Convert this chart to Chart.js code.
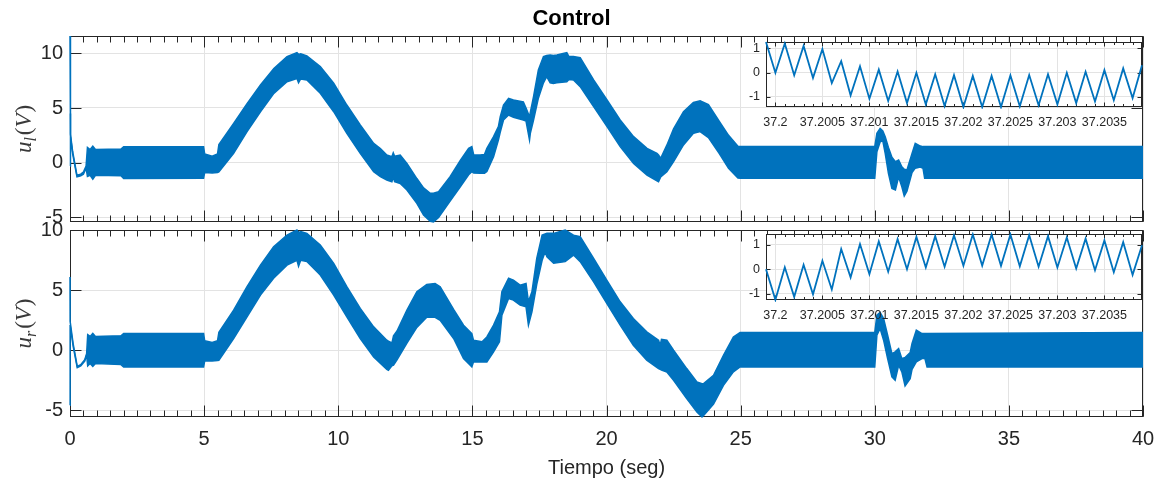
<!DOCTYPE html>
<html>
<head>
<meta charset="utf-8">
<title>Control</title>
<script src="https://cdn.jsdelivr.net/npm/chart.js@4/dist/chart.umd.min.js"></script>
<style>
  html, body { margin: 0; padding: 0; background: #fff; }
  #wrap { position: relative; width: 1165px; height: 483px; overflow: hidden; }
  #wrap canvas { position: absolute; left: 0; top: 0; }
</style>
</head>
<body>
<div id="wrap">
  <canvas id="mainL" width="1165" height="483"></canvas>
  <canvas id="mainR" width="1165" height="483"></canvas>
  <canvas id="zoomL" width="1165" height="483"></canvas>
  <canvas id="zoomR" width="1165" height="483"></canvas>
</div>
<script>
// ---------------------------------------------------------------
// Control signals u_l and u_r (V) over the 40 s run.
// The PWM-like switching makes each trace a dense band, so it is
// stored as the band's upper and lower envelope at sample times.
// ---------------------------------------------------------------

// u_l : sample times (s), band upper / lower envelope (V)
const TL = [
  0, 0.005, 0.03, 0.1, 0.26, 0.4, 0.5, 0.6, 0.65, 0.75,
  0.85, 0.95, 1.9, 2.0, 4.98, 5.02, 5.3, 5.5, 5.55, 6.1,
  6.6, 7.1, 7.6, 8.09, 8.46, 8.52, 8.6, 8.83, 9.33, 9.83,
  10.32, 10.82, 11.32, 11.57, 11.81, 12.0, 12.05, 12.1, 12.31, 12.56,
  12.93, 13.18, 13.43, 13.55, 13.74, 14.17, 14.55, 14.86, 14.98, 15.05,
  15.29, 15.45, 15.54, 15.79, 15.97, 16.04, 16.16, 16.35, 16.53, 16.9,
  17.0, 17.13, 17.16, 17.28, 17.46, 17.65, 17.77, 17.9, 18.02, 18.15,
  18.52, 18.6, 18.77, 19.02, 19.52, 20.02, 20.51, 21.01, 21.51, 21.88,
  21.94, 22.02, 22.25, 22.5, 22.87, 23.24, 23.49, 23.8, 24.2, 24.55,
  24.9, 25.0, 30.0, 30.08, 30.2, 30.3, 30.39, 30.51, 30.64, 30.77,
  30.89, 31.01, 31.1, 31.2, 31.39, 31.51, 31.7, 31.8, 31.86, 40
];
const UL_HI = [
  11.58, 4.8, 2.6, 1.0, -1.15, -1.05, -0.85, -0.3, 1.4, 1.2,
  1.5, 1.2, 1.25, 1.45, 1.45, 0.8, 0.6, 0.8, 1.65, 3.6,
  5.4, 7.1, 8.6, 9.7, 10.06, 9.9, 9.95, 9.75, 8.78, 7.26,
  5.27, 3.45, 1.77, 1.3, 0.7, 0.55, 0.9, 0.6, 0.7, -0.06,
  -1.45, -2.3, -2.8, -2.8, -2.65, -1.28, 0.2, 1.31, 1.46, 0.7,
  0.7, 0.75, 1.31, 2.38, 3.3, 4.2, 5.27, 5.88, 5.73, 5.55,
  5.0, 4.2, 4.6, 6.04, 8.47, 9.7, 9.8, 9.85, 9.8, 9.85,
  10.06, 9.7, 9.7, 9.6, 7.56, 5.73, 3.9, 2.38, 1.31, 0.86,
  0.7, 0.4, 1.6, 3.1, 4.65, 5.5, 5.65, 5.3, 3.8, 2.5,
  1.5, 1.47, 1.47, 2.7, 3.14, 2.9, 2.38, 1.4, 0.5, 0.1,
  0.25, -0.37, -0.6, -0.67, 0.85, 1.77, 1.52, 1.47, 1.47, 1.47
];
const UL_LO = [
  -0.3, 4.5, 2.4, 0.8, -1.3, -1.2, -1.05, -0.5, -1.25, -1.15,
  -1.5, -1.15, -1.2, -1.45, -1.42, -0.9, -0.95, -0.9, -0.85, 0.85,
  2.84, 4.66, 6.34, 7.4, 7.7, 7.3, 7.65, 7.56, 6.34, 4.66,
  2.68, 0.85, -0.82, -1.28, -1.58, -1.74, -1.3, -1.74, -1.9, -2.5,
  -3.72, -4.78, -5.35, -5.42, -5.0, -3.5, -2.2, -1.1, -0.82, -0.95,
  -0.97, -0.97, -0.8, 0.55, 2.07, 2.8, 3.9, 4.36, 4.15, 3.9,
  3.8, 2.07, 2.68, 3.9, 5.9, 7.3, 7.86, 7.3, 7.25, 7.3,
  7.4, 7.6, 7.56, 6.95, 5.12, 3.3, 1.47, -0.06, -1.13, -1.65,
  -1.74, -1.3, -0.82, 0.1, 1.62, 2.68, 2.84, 2.3, 0.86, -0.51,
  -1.4, -1.43, -1.43, 1.0, 1.9, 2.0, 0.85, -0.97, -2.35, -2.5,
  -1.3, -2.2, -3.04, -2.6, -0.9, -0.5, -0.4, -0.52, -1.43, -1.43
];

// u_r : sample times (s), band upper / lower envelope (V)
const TR = [
  0, 0.005, 0.12, 0.27, 0.4, 0.55, 0.62, 0.66, 0.75, 0.85,
  0.95, 1.9, 2.0, 4.98, 5.02, 5.3, 5.5, 5.55, 6.1, 6.6,
  7.1, 7.59, 8.09, 8.46, 8.52, 8.6, 8.83, 9.33, 9.83, 10.32,
  10.82, 11.32, 11.81, 11.87, 12.0, 12.06, 12.19, 12.56, 12.93, 13.3,
  13.61, 13.8, 14.3, 14.67, 14.98, 15.04, 15.36, 15.54, 15.79, 16.01,
  16.1, 16.35, 16.53, 16.78, 17.0, 17.09, 17.22, 17.4, 17.6, 17.71,
  17.78, 18.03, 18.46, 18.77, 19.02, 19.52, 20.01, 20.51, 21.0, 21.5,
  21.94, 22.0, 22.05, 22.25, 22.5, 22.99, 23.37, 23.56, 23.62, 23.99,
  24.36, 24.73, 24.98, 30.0, 30.08, 30.2, 30.33, 30.48, 30.64, 30.76,
  30.89, 31.01, 31.13, 31.32, 31.39, 31.55, 31.76, 31.87, 31.95, 40
];
const UR_HI = [
  6.1, 2.4, 0.5, -1.35, -1.2, -0.8, -0.3, 1.3, 1.15, 1.4,
  1.15, 1.2, 1.4, 1.4, 0.8, 0.65, 0.8, 1.5, 3.34, 5.3,
  7.1, 8.64, 9.6, 10.03, 9.8, 9.9, 9.75, 8.78, 7.25, 5.3,
  3.48, 1.95, 0.84, 0.75, 0.6, 1.2, 1.6, 3.34, 4.88, 5.49,
  5.57, 5.3, 3.4, 2.09, 1.39, 0.84, 0.7, 1.11, 2.09, 3.2,
  4.88, 6.0, 5.85, 5.43, 5.57, 4.04, 4.88, 7.66, 9.6, 9.7,
  9.75, 9.75, 10.03, 9.6, 9.48, 7.66, 5.85, 4.04, 2.65, 1.53,
  0.84, 0.42, 0.9, 0.84, 0.0, -1.53, -2.65, -2.8, -2.79, -2.09,
  -0.42, 1.11, 1.48, 1.48, 2.93, 3.15, 2.65, 1.25, -0.28, -0.14,
  0.14, -0.7, -0.6, -0.2, 0.56, 1.67, 1.39, 1.39, 1.4, 1.48
];
const UR_LO = [
  -4.6, 2.1, 0.3, -1.45, -1.3, -0.9, -0.4, -1.3, -1.1, -1.35,
  -1.1, -1.2, -1.4, -1.39, -0.9, -0.9, -0.85, -0.84, 0.98, 2.79,
  4.6, 6.0, 7.1, 7.5, 7.0, 7.5, 7.4, 6.27, 4.6, 2.79,
  0.98, -0.56, -1.6, -1.67, -1.3, -1.25, -0.8, 0.6, 1.9, 2.75,
  2.75, 2.5, 0.98, -0.7, -1.39, -0.98, -0.98, -0.98, -0.14, 0.7,
  2.93, 4.32, 4.18, 3.76, 3.62, 2.09, 3.2, 5.5, 7.5, 8.2,
  7.8, 7.25, 7.39, 7.94, 7.39, 5.71, 3.9, 2.09, 0.42, -0.84,
  -1.53, -1.6, -1.65, -1.81, -2.51, -4.04, -5.16, -5.57, -5.45, -4.5,
  -2.93, -1.81, -1.39, -1.39, 1.25, 1.81, 0.84, -0.7, -2.23, -2.51,
  -1.25, -1.81, -2.98, -2.37, -1.6, -0.98, -0.7, -0.7, -1.39, -1.39
];

// Close-up of a few switching periods around t = 37.2 s
const ZOOM_T = [
  37.1999, 37.2000, 37.2001, 37.2002, 37.2003, 37.2004, 37.2005, 37.2006, 37.2007, 37.2008,
  37.2009, 37.2010, 37.2011, 37.2012, 37.2013, 37.2014, 37.2015, 37.2016, 37.2017, 37.2018,
  37.2019, 37.2020, 37.2021, 37.2022, 37.2023, 37.2024, 37.2025, 37.2026, 37.2027, 37.2028,
  37.2029, 37.2030, 37.2031, 37.2032, 37.2033, 37.2034, 37.2035, 37.2036, 37.2037, 37.2038,
  37.2039
];
const ZOOM_UL = [
  1.26, -0.01, 1.20, -0.11, 1.10, -0.22, 0.97, -0.43, 0.47, -0.94,
  0.26, -1.08, 0.12, -1.17, 0.04, -1.26, -0.01, -1.31, -0.07, -1.38,
  -0.11, -1.42, -0.14, -1.42, -0.14, -1.42, -0.12, -1.39, -0.10, -1.35,
  -0.07, -1.31, -0.01, -1.26, 0.03, -1.19, 0.10, -1.14, 0.17, -1.05,
  0.30
];
const ZOOM_UR = [
  0.00, -1.24, 0.08, -1.12, 0.18, -1.02, 0.34, -0.82, 0.82, -0.33,
  1.02, -0.20, 1.13, -0.10, 1.22, 0.00, 1.31, 0.07, 1.34, 0.10,
  1.38, 0.14, 1.41, 0.15, 1.41, 0.14, 1.41, 0.12, 1.38, 0.10,
  1.34, 0.07, 1.29, 0.03, 1.24, -0.04, 1.17, -0.12, 1.10, -0.23,
  0.97
];

// Tick positions
const X_TICKS = [0, 5, 10, 15, 20, 25, 30, 35, 40];
const Y_TICKS = [-5, 0, 5, 10];
const ZOOM_X_TICKS = [37.2, 37.2005, 37.201, 37.2015, 37.202, 37.2025, 37.203, 37.2035];
const ZOOM_Y_TICKS = [-1, 0, 1];

// ---------------------------------------------------------------
const SANS = '"Liberation Sans", Arial, Helvetica, sans-serif';
const SERIF = '"Liberation Serif", "Times New Roman", serif';
const BLUE = '#0072BD';
const INK = '#262626';
const GRID = '#e3e3e3';

const pts = (xs, ys) => xs.map((x, i) => ({ x, y: ys[i] }));
const fixedTicks = list => scale => { scale.ticks = list.map(v => ({ value: v })); };

// Box around the plot area with inward major / minor tick marks on all sides
// (drawn under the data, so the traces sit on top of the axis lines)
function makeFrame(cfg) {
  return {
    id: 'frame',
    beforeDatasetsDraw(chart) {
      const { ctx, chartArea: a, scales } = chart;
      const L = Math.round(a.left) + 0.5, R = Math.round(a.right) - 0.5;
      const T = Math.round(a.top) + 0.5, B = Math.round(a.bottom) - 0.5;
      ctx.save();
      ctx.strokeStyle = INK;
      ctx.lineWidth = 1;
      ctx.beginPath();
      const vTick = (v, len) => {
        const p = Math.round(scales.x.getPixelForValue(v)) + 0.5;
        ctx.moveTo(p, T); ctx.lineTo(p, T + len);
        ctx.moveTo(p, B); ctx.lineTo(p, B - len);
      };
      const hTick = (v, len) => {
        const p = Math.round(scales.y.getPixelForValue(v)) + 0.5;
        ctx.moveTo(L, p); ctx.lineTo(L + len, p);
        ctx.moveTo(R, p); ctx.lineTo(R - len, p);
      };
      for (let k = 0; k <= cfg.minorCount; k++) vTick(cfg.minorStart + k * cfg.minorStep, cfg.minorLen);
      cfg.xMajor.forEach(v => vTick(v, cfg.majorLen));
      cfg.yMajor.forEach(v => hTick(v, cfg.majorLen));
      ctx.stroke();
      ctx.strokeRect(L, T, R - L, B - T);
      ctx.restore();
    }
  };
}

// Rotated math-style axis label: u with a subscript, then (V)
function makeYLabel(sub, x, size) {
  return {
    id: 'ylabel',
    afterDraw(chart) {
      const { ctx, chartArea: a } = chart;
      const parts = [
        { t: 'u', f: `italic ${size}px ${SERIF}`, dy: 0 },
        { t: sub, f: `italic ${Math.round(size * 0.7)}px ${SERIF}`, dy: size * 0.22 },
        { t: '(', f: `${size}px ${SERIF}`, dy: 0, gap: size * 0.08 },
        { t: 'V', f: `italic ${size}px ${SERIF}`, dy: 0 },
        { t: ')', f: `${size}px ${SERIF}`, dy: 0, gap: size * 0.04 }
      ];
      ctx.save();
      let total = 0;
      parts.forEach(p => { ctx.font = p.f; p.w = ctx.measureText(p.t).width; total += p.w + (p.gap || 0); });
      ctx.translate(x, (a.top + a.bottom) / 2);
      ctx.rotate(-Math.PI / 2);
      ctx.fillStyle = '#3a3a3a';
      ctx.textBaseline = 'alphabetic';
      ctx.textAlign = 'left';
      let cx = -total / 2;
      parts.forEach(p => {
        cx += p.gap || 0;
        ctx.font = p.f;
        ctx.fillText(p.t, cx, p.dy);
        cx += p.w;
      });
      ctx.restore();
    }
  };
}

const whiteArea = {
  id: 'whiteArea',
  beforeDraw(chart) {
    const { ctx, chartArea: a } = chart;
    ctx.save();
    ctx.fillStyle = '#fff';
    ctx.fillRect(a.left, a.top, a.right - a.left, a.bottom - a.top);
    ctx.restore();
  }
};

function bandDatasets(t, hi, lo) {
  return [
    { data: pts(t, hi), borderColor: BLUE, borderWidth: 1.5, pointRadius: 0, fill: false, tension: 0, clip: 3 },
    { data: pts(t, lo), borderColor: BLUE, borderWidth: 1.5, pointRadius: 0, fill: '-1', backgroundColor: BLUE, tension: 0, clip: 3 }
  ];
}

function mainChart(id, t, hi, lo, yMin, yMax, sub, opt) {
  return new Chart(document.getElementById(id), {
    type: 'line',
    data: { datasets: bandDatasets(t, hi, lo) },
    options: {
      responsive: false, animation: false, devicePixelRatio: 1, events: [],
      layout: { padding: opt.padding },
      plugins: {
        legend: { display: false }, tooltip: { enabled: false },
        title: opt.title || { display: false }
      },
      scales: {
        x: {
          type: 'linear', min: 0, max: 40,
          afterBuildTicks: fixedTicks(X_TICKS),
          afterFit: s => { s.height = opt.xHeight; },
          grid: { color: GRID, lineWidth: 1, drawTicks: false },
          border: { display: false },
          ticks: {
            display: opt.xLabels, padding: 10, autoSkip: false, maxRotation: 0,
            color: INK, font: { family: SANS, size: 20, lineHeight: '24px' },
            callback: v => String(v)
          },
          title: opt.xTitle || { display: false }
        },
        y: {
          type: 'linear', min: yMin, max: yMax,
          afterBuildTicks: fixedTicks(Y_TICKS),
          afterFit: s => { s.width = 70; },
          grid: { color: GRID, lineWidth: 1, drawTicks: false },
          border: { display: false },
          ticks: {
            padding: 7, color: INK, font: { family: SANS, size: 20, lineHeight: '24px' },
            callback: v => String(v)
          }
        }
      }
    },
    plugins: [
      makeFrame({ minorStart: 0, minorStep: 0.5, minorCount: 80, minorLen: 6, majorLen: 11, xMajor: X_TICKS, yMajor: Y_TICKS }),
      makeYLabel(sub, 31, 23)
    ]
  });
}

function zoomChart(id, ys, yMin, yMax, padding) {
  return new Chart(document.getElementById(id), {
    type: 'line',
    data: { datasets: [{ data: pts(ZOOM_T, ys), borderColor: BLUE, borderWidth: 1.8, pointRadius: 0, fill: false, tension: 0, clip: 2 }] },
    options: {
      responsive: false, animation: false, devicePixelRatio: 1, events: [],
      layout: { padding },
      plugins: { legend: { display: false }, tooltip: { enabled: false } },
      scales: {
        x: {
          type: 'linear', min: 37.1999, max: 37.2039,
          afterBuildTicks: fixedTicks(ZOOM_X_TICKS),
          afterFit: s => { s.height = 30; },
          grid: { color: GRID, lineWidth: 1, drawTicks: false },
          border: { display: false },
          ticks: {
            padding: 8, autoSkip: false, maxRotation: 0, color: INK,
            font: { family: SANS, size: 12.5, lineHeight: '15px' },
            callback: v => String(v)
          }
        },
        y: {
          type: 'linear', min: yMin, max: yMax,
          afterBuildTicks: fixedTicks(ZOOM_Y_TICKS),
          afterFit: s => { s.width = 40; },
          grid: { color: GRID, lineWidth: 1, drawTicks: false },
          border: { display: false },
          ticks: {
            padding: 6, color: INK, font: { family: SANS, size: 12.5, lineHeight: '15px' },
            callback: v => String(v)
          }
        }
      }
    },
    plugins: [
      whiteArea,
      makeFrame({ minorStart: 37.1999, minorStep: 0.0001, minorCount: 40, minorLen: 2.5, majorLen: 4, xMajor: ZOOM_X_TICKS, yMajor: ZOOM_Y_TICKS })
    ]
  });
}

// Upper panel: u_l, with the figure title
mainChart('mainL', TL, UL_HI, UL_LO, -5.42, 11.58, 'l', {
  padding: { left: 0, right: 22, top: 0, bottom: 261 },
  xHeight: 0, xLabels: false,
  title: {
    display: true, text: 'Control', color: '#000',
    font: { family: SANS, size: 22, weight: 'bold', lineHeight: '26px' },
    padding: { top: 6, bottom: 4 }
  }
});

// Lower panel: u_r, with the time axis
mainChart('mainR', TR, UR_HI, UR_LO, -5.57, 10.03, 'r', {
  padding: { left: 0, right: 22, top: 230, bottom: 0 },
  xHeight: 66, xLabels: true,
  xTitle: {
    display: true, text: 'Tiempo (seg)', color: INK,
    font: { family: SANS, size: 20, lineHeight: '24px' },
    padding: { top: 0, bottom: 3 }
  }
});

// Close-up axes placed inside each panel
zoomChart('zoomL', ZOOM_UL, -1.42, 1.26, { left: 726, right: 23, top: 42, bottom: 346 });
zoomChart('zoomR', ZOOM_UR, -1.25, 1.43, { left: 726, right: 23, top: 234, bottom: 153 });
</script>
</body>
</html>
